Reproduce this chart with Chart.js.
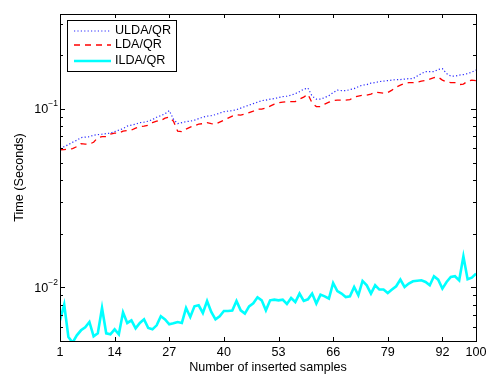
<!DOCTYPE html>
<html>
<head>
<meta charset="utf-8">
<script src="https://cdn.jsdelivr.net/npm/chart.js@4.4.1/dist/chart.umd.min.js"></script>
<style>
  html, body { margin: 0; padding: 0; background: #fff; }
  #wrap { width: 491px; height: 379px; }
</style>
</head>
<body>
<div id="wrap"><canvas id="chart" width="491" height="379"></canvas></div>
<script>
// x positions: number of inserted samples
const samples = Array.from({ length: 100 }, (_, i) => i + 1);

const xTicks = [1, 14, 27, 40, 53, 66, 79, 92, 100];
const yMajor = [0.01, 0.1];
const yMinor = [0.005, 0.006, 0.007, 0.008, 0.009, 0.02, 0.03, 0.04, 0.05, 0.06, 0.07, 0.08, 0.09, 0.2, 0.3];
const yLabels = { 0.01: "-2", 0.1: "-1" };

const ulda = [
  0.0602, 0.0614, 0.0630, 0.0650, 0.0667, 0.0690, 0.0694, 0.0698, 0.0712, 0.0717,
  0.0721, 0.0726, 0.0731, 0.0745, 0.0760, 0.0775, 0.0800, 0.0810, 0.0821, 0.0837,
  0.0842, 0.0853, 0.0870, 0.0898, 0.0916, 0.0940, 0.0977, 0.0875, 0.0826, 0.0837,
  0.0848, 0.0853, 0.0864, 0.0881, 0.0898, 0.0910, 0.0916, 0.0928, 0.0946, 0.0964,
  0.0971, 0.0977, 0.0990, 0.1009, 0.1029, 0.1049, 0.1070, 0.1090, 0.1112, 0.1119,
  0.1133, 0.1141, 0.1156, 0.1171, 0.1178, 0.1194, 0.1217, 0.1249, 0.1290, 0.1307,
  0.1178, 0.1133, 0.1133, 0.1156, 0.1186, 0.1233, 0.1273, 0.1265, 0.1265, 0.1281,
  0.1298, 0.1332, 0.1358, 0.1367, 0.1394, 0.1403, 0.1421, 0.1430, 0.1440, 0.1449,
  0.1458, 0.1458, 0.1468, 0.1477, 0.1477, 0.1526, 0.1576, 0.1617, 0.1617, 0.1617,
  0.1660, 0.1681, 0.1576, 0.1526, 0.1526, 0.1545, 0.1555, 0.1576, 0.1606, 0.1648
];

const lda = [
  0.0590, 0.0591, 0.0594, 0.0598, 0.0614, 0.0638, 0.0634, 0.0634, 0.0650, 0.0690,
  0.0698, 0.0698, 0.0721, 0.0731, 0.0731, 0.0750, 0.0755, 0.0760, 0.0780, 0.0795,
  0.0800, 0.0810, 0.0837, 0.0853, 0.0859, 0.0887, 0.0898, 0.0853, 0.0750, 0.0745,
  0.0770, 0.0790, 0.0805, 0.0821, 0.0826, 0.0837, 0.0826, 0.0821, 0.0842, 0.0864,
  0.0887, 0.0910, 0.0928, 0.0922, 0.0934, 0.0952, 0.0971, 0.0996, 0.0996, 0.1009,
  0.1035, 0.1063, 0.1083, 0.1090, 0.1098, 0.1098, 0.1098, 0.1133, 0.1163, 0.1209,
  0.1076, 0.1029, 0.1029, 0.1063, 0.1090, 0.1112, 0.1119, 0.1119, 0.1119, 0.1126,
  0.1163, 0.1178, 0.1194, 0.1194, 0.1209, 0.1241, 0.1233, 0.1225, 0.1233, 0.1273,
  0.1324, 0.1358, 0.1385, 0.1403, 0.1403, 0.1412, 0.1430, 0.1440, 0.1468, 0.1496,
  0.1506, 0.1449, 0.1412, 0.1403, 0.1403, 0.1367, 0.1376, 0.1430, 0.1449, 0.1440
];

const ilda = [
  0.00653, 0.00800, 0.00526, 0.00490, 0.00538, 0.00574, 0.00597, 0.00639, 0.00531, 0.00552,
  0.00765, 0.00552, 0.00545, 0.00581, 0.00545, 0.00724, 0.00631, 0.00653, 0.00589, 0.00631,
  0.00661, 0.00591, 0.00581, 0.00612, 0.00688, 0.00661, 0.00620, 0.00628, 0.00639, 0.00631,
  0.00765, 0.00681, 0.00782, 0.00792, 0.00718, 0.00838, 0.00727, 0.00661, 0.00688, 0.00736,
  0.00736, 0.00740, 0.00838, 0.00743, 0.00712, 0.00782, 0.00813, 0.00879, 0.00845, 0.00743,
  0.00845, 0.00853, 0.00845, 0.00853, 0.00806, 0.00871, 0.00827, 0.00922, 0.00838, 0.00856,
  0.00922, 0.00810, 0.00910, 0.00890, 0.00864, 0.01057, 0.00953, 0.00922, 0.00882, 0.00890,
  0.01004, 0.00902, 0.01085, 0.01026, 0.00922, 0.01026, 0.00971, 0.00971, 0.00929, 0.00971,
  0.01013, 0.01104, 0.01004, 0.01049, 0.01080, 0.01087, 0.01094, 0.01071, 0.01026, 0.01153,
  0.01104, 0.00983, 0.01071, 0.01142, 0.01153, 0.01094, 0.01492, 0.01109, 0.01133, 0.01193
];

const FONT = '"Liberation Sans", Arial, Helvetica, sans-serif';
const FS = 12.6;

function toPoints(values) {
  return values.map((v, i) => ({ x: samples[i], y: v }));
}

// axes box, inward ticks, tick labels, titles and legend (MATLAB look)
const matlabFrame = {
  id: "matlabFrame",
  afterDraw(chart) {
    const ctx = chart.ctx;
    const a = chart.chartArea;
    const xs = chart.scales.x;
    const ys = chart.scales.y;

    ctx.save();
    ctx.strokeStyle = "#000";
    ctx.lineWidth = 1;
    ctx.setLineDash([]);
    ctx.strokeRect(Math.round(a.left) + 0.5, Math.round(a.top) + 0.5,
      Math.round(a.right - a.left), Math.round(a.bottom - a.top));

    ctx.beginPath();
    xTicks.forEach(v => {
      const px = Math.round(xs.getPixelForValue(v)) + 0.5;
      ctx.moveTo(px, a.bottom); ctx.lineTo(px, a.bottom - 4);
      ctx.moveTo(px, a.top); ctx.lineTo(px, a.top + 4);
    });
    yMajor.concat(yMinor).forEach(v => {
      const len = yMajor.includes(v) ? 5 : 3;
      const py = Math.round(ys.getPixelForValue(v)) + 0.5;
      ctx.moveTo(a.left, py); ctx.lineTo(a.left + len, py);
      ctx.moveTo(a.right, py); ctx.lineTo(a.right - len, py);
    });
    ctx.stroke();

    ctx.fillStyle = "#000";
    ctx.font = FS + "px " + FONT;
    ctx.textAlign = "center";
    ctx.textBaseline = "top";
    xTicks.forEach(v => ctx.fillText(String(v), xs.getPixelForValue(v), a.bottom + 5));

    yMajor.forEach(v => {
      const py = ys.getPixelForValue(v);
      ctx.font = "8.5px " + FONT;
      ctx.textAlign = "right";
      ctx.textBaseline = "middle";
      const sup = "\u2212" + yLabels[v].slice(1);
      ctx.fillText(sup, a.left - 2, py - 5);
      const w = ctx.measureText(sup).width;
      ctx.font = FS + "px " + FONT;
      ctx.fillText("10", a.left - 2 - w, py + 1);
    });

    ctx.textAlign = "center";
    ctx.textBaseline = "top";
    ctx.fillText("Number of inserted samples", (a.left + a.right) / 2, a.bottom + 20);

    ctx.save();
    ctx.translate(20, (a.top + a.bottom) / 2);
    ctx.rotate(-Math.PI / 2);
    ctx.textBaseline = "middle";
    ctx.fillText("Time (Seconds)", 0, 0);
    ctx.restore();

    // legend box
    const lx = a.left + 7, ly = a.top + 6, lw = 109, lh = 51;
    ctx.fillStyle = "#fff";
    ctx.fillRect(lx, ly, lw, lh);
    ctx.strokeStyle = "#000";
    ctx.lineWidth = 1;
    ctx.strokeRect(lx + 0.5, ly + 0.5, lw, lh);
    const rows = [ly + 11, ly + 25, ly + 41];
    chart.data.datasets.forEach((ds, i) => {
      const ry = rows[i];
      ctx.beginPath();
      ctx.strokeStyle = ds.borderColor;
      ctx.lineWidth = ds.borderWidth;
      ctx.setLineDash(ds.borderDash || []);
      ctx.moveTo(lx + 7, ry);
      ctx.lineTo(lx + 44, ry);
      ctx.stroke();
      ctx.setLineDash([]);
      ctx.fillStyle = "#000";
      ctx.font = FS + "px " + FONT;
      ctx.textAlign = "left";
      ctx.textBaseline = "middle";
      ctx.fillText(ds.label, lx + 48, ry);
    });
    ctx.restore();
  }
};

new Chart(document.getElementById("chart"), {
  type: "line",
  data: {
    datasets: [
      { label: "ULDA/QR", data: toPoints(ulda), borderColor: "#2b2bff", borderWidth: 1.2, borderDash: [1.2, 2.2] },
      { label: "LDA/QR", data: toPoints(lda), borderColor: "#ff0000", borderWidth: 1.3, borderDash: [6, 5] },
      { label: "ILDA/QR", data: toPoints(ilda), borderColor: "#00ffff", borderWidth: 2.6 }
    ]
  },
  options: {
    responsive: false,
    animation: false,
    layout: { padding: { left: 60, right: 15, top: 14, bottom: 38 } },
    elements: { point: { radius: 0 }, line: { tension: 0 } },
    plugins: { legend: { display: false }, tooltip: { enabled: false } },
    scales: {
      x: { type: "linear", display: false, min: 1, max: 100 },
      y: { type: "logarithmic", display: false, min: 0.005, max: 0.34 }
    }
  },
  plugins: [matlabFrame]
});
</script>
</body>
</html>
